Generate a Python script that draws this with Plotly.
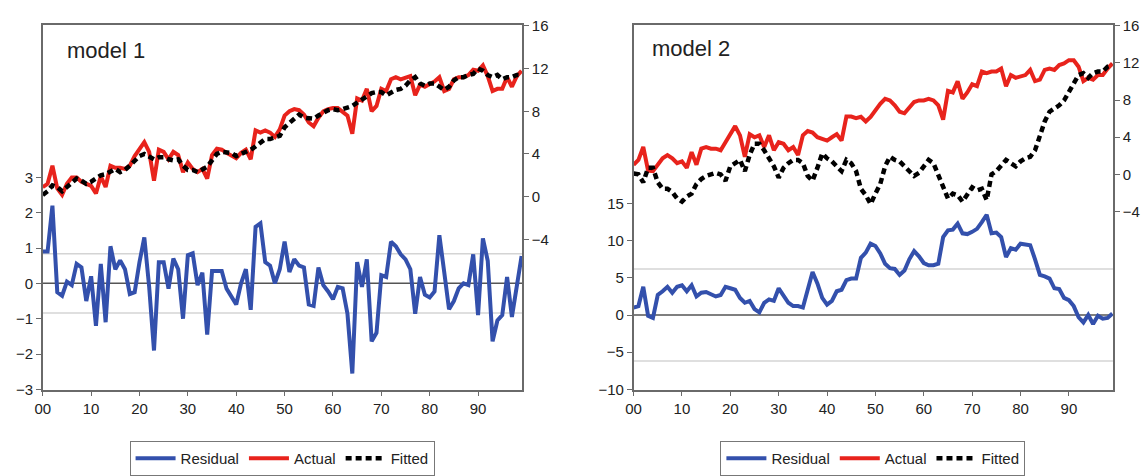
import plotly.graph_objects as go

# Observation index (00 .. 99)
periods = list(range(100))
tick_positions = [0, 10, 20, 30, 40, 50, 60, 70, 80, 90]
tick_labels = ["00", "10", "20", "30", "40", "50", "60", "70", "80", "90"]

# ---- model 1 ----
m1_residual = [
    0.9, 0.9, 2.2, -0.25, -0.35, 0.05, -0.05, 0.55, 0.45, -0.5,
    0.2, -1.2, 0.55, -1.1, 1.05, 0.4, 0.65, 0.4, -0.3, -0.25,
    0.6, 1.3, -0.1, -1.9, 0.6, 0.6, -0.15, 0.7, 0.4, -1.0,
    0.8, 0.85, -0.05, 0.3, -1.45, 0.35, 0.35, 0.35, -0.15, -0.4,
    -0.6, 0.0, 0.4, -0.75, 1.6, 1.7, 0.6, 0.5, 0.0, 0.4,
    1.18, 0.32, 0.68, 0.5, 0.45, -0.6, -0.64, 0.45, -0.05, -0.23,
    -0.45, -0.1, -0.14, -0.86, -2.55, 0.6, -0.1, 0.68, -1.64, -1.4,
    0.23, 0.18, 1.18, 1.05, 0.82, 0.68, 0.4, -0.86, 0.18, -0.32,
    -0.4, -0.23, 1.36, 0.32, -0.73, -0.5, -0.14, 0.0, -0.05, 0.82,
    -0.9, 1.27, 0.64, -1.64, -1.05, -0.9, 0.18, -0.95, 0.0, 0.77,
]
m1_actual = [
    0.9, 1.2, 2.9, 0.76, 0.16, 1.2, 1.8, 1.8, 1.4, 1.2,
    1.0, 0.3, 1.9, 0.9, 2.9, 2.7, 2.7, 2.6, 2.9, 3.8,
    4.4, 5.1, 4.2, 1.5, 4.4, 4.2, 3.5, 4.2, 3.9, 2.3,
    3.2, 2.6, 2.3, 2.6, 1.7, 3.9, 4.5, 4.4, 4.1, 3.8,
    3.6, 4.1, 4.4, 3.5, 6.2, 6.0, 6.2, 6.0, 5.6, 6.3,
    7.6, 8.0, 8.2, 8.1, 7.7, 6.95, 6.6, 7.4, 8.0, 8.2,
    8.3, 8.3, 8.0, 7.6, 5.9, 9.2, 9.0, 10.1, 8.0, 8.5,
    10.1, 9.9, 11.0, 11.2, 11.0, 11.2, 11.3, 9.5, 10.5, 10.3,
    10.5, 10.8, 11.2, 9.9, 10.1, 11.0, 11.2, 11.2, 11.4, 11.9,
    11.8, 12.3, 11.3, 9.9, 10.1, 10.1, 11.2, 10.3, 11.3, 11.8,
]
m1_fitted = [
    0.16, 0.5, 1.06, 0.9, 0.5, 0.9, 1.4, 1.7, 1.5, 1.2,
    1.4, 1.7, 2.0, 2.1, 2.3, 2.6, 2.3, 2.5, 2.9, 3.4,
    3.8, 4.0, 3.8, 3.5, 3.7, 3.7, 3.5, 3.4, 3.5, 2.9,
    2.5, 2.5, 2.3, 2.5, 2.8, 3.4, 4.0, 4.2, 4.2, 4.1,
    3.8, 4.0, 4.1, 4.4, 4.7, 5.1, 5.4, 5.4, 5.6, 5.7,
    6.5, 6.9, 7.4, 7.7, 7.4, 7.3, 7.3, 7.6, 7.9, 8.1,
    8.2, 8.1, 8.2, 8.3, 8.5, 8.8, 9.1, 9.4, 9.7, 9.8,
    9.8, 9.5, 9.8, 10.0, 10.1, 10.4, 10.9, 11.2, 10.6, 10.4,
    10.6, 10.6, 10.3, 10.0, 10.3, 10.9, 11.2, 11.2, 11.4, 11.5,
    12.0, 11.8, 11.4, 11.2, 11.4, 11.0, 11.2, 11.2, 11.4, 11.4,
]
m1_resid_sd = 0.84

# ---- model 2 ----
m2_residual = [
    1.0, 1.2, 3.8, -0.1, -0.4, 2.7, 3.2, 3.8, 3.0, 3.8,
    4.0, 3.2, 4.0, 2.5, 3.0, 3.1, 2.8, 2.5, 2.7, 3.8,
    3.6, 3.4, 2.3, 1.65, 1.9, 0.8, 0.35, 1.65, 2.1, 1.9,
    3.6, 2.7, 1.65, 1.2, 1.2, 1.0, 3.6, 5.8, 4.25, 2.3,
    1.4, 1.9, 3.2, 3.4, 4.7, 4.9, 4.9, 7.7, 8.4, 9.6,
    9.3, 8.3, 6.9, 6.3, 6.2, 5.4, 6.0, 7.5, 8.6, 7.9,
    7.0, 6.7, 6.7, 6.9, 10.5, 11.4, 11.5, 12.3, 11.0, 10.9,
    11.2, 11.6, 12.5, 13.5, 11.0, 11.1, 10.5, 7.8, 9.0, 8.8,
    9.6, 9.5, 9.4, 7.5, 5.4, 5.2, 4.9, 3.6, 3.5, 2.3,
    2.0, 1.2, -0.3, -1.0, 0.0, -1.2, -0.1, -0.5, -0.4, 0.2,
]
m2_actual = [
    1.04, 1.56, 2.95, 0.4, 0.35, 1.04, 1.73, 2.08, 1.73, 1.2,
    1.4, 0.7, 2.4, 1.04, 2.77, 2.95, 2.77, 2.77, 2.6, 3.47,
    4.33, 5.2, 4.2, 1.9, 4.33, 4.0, 4.2, 2.95, 4.2, 2.6,
    3.47, 3.3, 2.6, 2.95, 2.08, 4.2, 4.67, 4.5, 4.0, 3.8,
    3.64, 4.0, 4.33, 3.64, 6.23, 6.23, 6.06, 6.2, 5.7, 6.2,
    6.93, 7.6, 8.14, 7.97, 7.44, 6.75, 6.58, 7.27, 7.8, 7.97,
    7.97, 8.14, 7.97, 7.44, 5.89, 9.0, 8.83, 10.04, 8.14, 8.83,
    9.7, 9.5, 11.08, 10.9, 11.08, 11.08, 11.4, 9.5, 10.7, 10.4,
    10.56, 10.7, 11.25, 10.04, 10.2, 11.25, 11.4, 11.25, 11.78, 11.95,
    12.3, 12.3, 11.6, 10.04, 10.4, 10.2, 10.7, 10.7, 11.4, 11.95,
]
m2_fitted = [
    0.1, 0.0, -0.86, 0.7, 0.7, -0.86, -1.56, -1.56, -1.9, -2.6,
    -2.94, -2.4, -2.07, -1.04, -0.5, -0.17, 0.0, 0.17, 0.0, -0.69,
    0.87, 1.2, 1.56, 0.35, 2.08, 3.3, 3.3, 2.6, 1.73, 0.87,
    -0.35, 0.7, 1.2, 1.56, 1.56, 1.2, -0.17, -0.69, 0.7, 2.25,
    1.73, 1.4, 0.87, 0.35, 1.56, 1.2, 0.35, -1.56, -2.25, -3.2,
    -2.07, -1.04, 0.87, 1.9, 1.56, 1.4, 0.87, 0.35, -0.17, 0.17,
    0.87, 1.56, 1.2, 0.0, -1.2, -2.6, -2.07, -2.25, -2.94, -2.07,
    -1.4, -1.73, -1.56, -2.77, 0.0, 0.35, 0.87, 1.56, 1.2, 0.87,
    1.4, 1.73, 1.9, 2.6, 4.15, 5.7, 6.75, 7.1, 7.44, 7.97,
    8.83, 9.7, 10.7, 10.9, 10.4, 10.9, 11.08, 11.08, 11.6, 11.78,
]
m2_resid_sd = 6.18

BLUE = "#3350AC"
RED = "#E8231C"
BLACK = "#000000"
AXIS = "#6a6a6a"
FONT = "Arial, Liberation Sans, sans-serif"

fig = go.Figure()

panels = [
    dict(res=m1_residual, act=m1_actual, fit=m1_fitted, xa="x", yl="y", yr="y2", leg="legend"),
    dict(res=m2_residual, act=m2_actual, fit=m2_fitted, xa="x2", yl="y3", yr="y4", leg="legend2"),
]
for p in panels:
    fig.add_trace(go.Scatter(x=periods, y=p["res"], name="Residual", mode="lines",
                             line=dict(color=BLUE, width=4), xaxis=p["xa"], yaxis=p["yl"],
                             legend=p["leg"]))
    fig.add_trace(go.Scatter(x=periods, y=p["act"], name="Actual", mode="lines",
                             line=dict(color=RED, width=4), xaxis=p["xa"], yaxis=p["yr"],
                             legend=p["leg"]))
    fig.add_trace(go.Scatter(x=periods, y=p["fit"], name="Fitted", mode="lines",
                             line=dict(color=BLACK, width=4.5, dash="6px,4px"),
                             xaxis=p["xa"], yaxis=p["yr"], legend=p["leg"]))

H = 476.0
W = 1143.0
y_dom = [1 - 395 / H, 1 - 18 / H]

tickfont = dict(family=FONT, size=15, color="#222")
common_x = dict(range=[0, 99.1], tickvals=tick_positions, ticktext=tick_labels,
                showline=True, mirror=True, linecolor=AXIS, linewidth=1.5,
                ticks="outside", ticklen=5, tickcolor=AXIS, tickwidth=1.2,
                showgrid=False, zeroline=False, tickfont=tickfont)
common_y = dict(showline=True, linecolor=AXIS, linewidth=1.5, ticks="outside",
                ticklen=5, tickcolor=AXIS, tickwidth=1.2, showgrid=False,
                zeroline=False, tickfont=tickfont)

legend_style = dict(orientation="h", y=1 - 448 / H, yanchor="top",
                    bordercolor="#777", borderwidth=1,
                    font=dict(family=FONT, size=15, color="#222"),
                    itemwidth=40, tracegroupgap=0, bgcolor="white")

fig.update_layout(
    width=1143, height=476,
    margin=dict(l=0, r=0, t=0, b=0),
    paper_bgcolor="white", plot_bgcolor="white",
    font=dict(family=FONT, color="#222"),
    xaxis=dict(domain=[35 / W, 517.7 / W], anchor="y", **common_x),
    xaxis2=dict(domain=[630 / W, 1112.7 / W], anchor="y3", **common_x),
    yaxis=dict(domain=y_dom, anchor="x", side="left", range=[-3.01, 7.30],
               tickvals=[-3, -2, -1, 0, 1, 2, 3], **common_y),
    yaxis2=dict(anchor="x", overlaying="y", side="right", range=[-18.1, 16.05],
                tickvals=[-4, 0, 4, 8, 12, 16], **common_y),
    yaxis3=dict(domain=y_dom, anchor="x2", side="left", range=[-10.06, 39.0],
                tickvals=[-10, -5, 0, 5, 10, 15], **common_y),
    yaxis4=dict(anchor="x2", overlaying="y3", side="right", range=[-23.2, 16.05],
                tickvals=[-4, 0, 4, 8, 12, 16], **common_y),
    legend=dict(x=276 / W, xanchor="center", **legend_style),
    legend2=dict(x=871 / W, xanchor="center", **legend_style),
    showlegend=True,
)

# Zero line and +/- one standard deviation of the residuals
for yref, xref, sd in [("y", "x", m1_resid_sd), ("y3", "x2", m2_resid_sd)]:
    for level, colour in [(sd, "#d4d4d4"), (-sd, "#d4d4d4"), (0, "#555555")]:
        fig.add_shape(type="line", xref=f"{xref} domain", yref=yref, x0=0, x1=1,
                      y0=level, y1=level, line=dict(color=colour, width=1.5), layer="below")

fig.add_annotation(text="model 1", xref="paper", yref="paper", x=57 / W, y=1 - 44 / H,
                   xanchor="left", yanchor="middle", showarrow=False,
                   font=dict(family=FONT, size=22, color="#222"))
fig.add_annotation(text="model 2", xref="paper", yref="paper", x=647 / W, y=1 - 42 / H,
                   xanchor="left", yanchor="middle", showarrow=False,
                   font=dict(family=FONT, size=22, color="#222"))

fig.write_html("out.html")
